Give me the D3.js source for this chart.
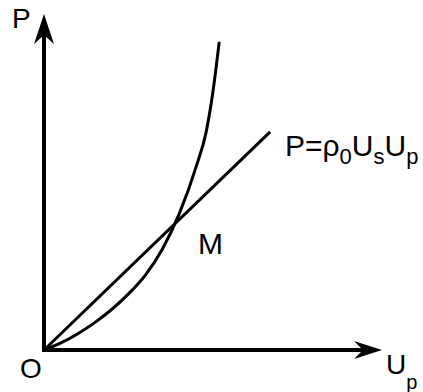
<!DOCTYPE html>
<html lang="en">
<head>
    <meta charset="UTF-8">
    <title>Hugoniot P-Up</title>
    <script src="https://d3js.org/d3.v7.min.js"></script>
    <style>
        body { margin: 0; background: #fff; }
        svg text { font-family: "Liberation Sans", Arial, sans-serif; fill: #000; }
    </style>
</head>
<body>
    <div id="chart"></div>
    <script>
        // Hugoniot curve (arbitrary units)
        const curveUp = [0, 0.5, 1, 1.5, 2, 2.5, 3, 3.5, 4, 4.5, 4.8, 5.0, 5.18];
        const curveP  = [0, 0.21, 0.485, 0.815, 1.205, 1.67, 2.23, 3.0, 4.05, 5.45, 6.5, 7.7, 9.14];
        // Rayleigh line P = rho0 Us Up
        const lineUp = [0, 6.69];
        const lineP  = [0, 6.49];
        const axisMax = [10, 10];

        const width = 423, height = 392;
        const origin = {x: 44, y: 350};

        const x = d3.scaleLinear().domain([0, axisMax[0]]).range([origin.x, 382]);
        const y = d3.scaleLinear().domain([0, axisMax[1]]).range([origin.y, 14]);

        const svg = d3.select("#chart").append("svg")
            .attr("width", width)
            .attr("height", height);

        svg.append("rect").attr("width", width).attr("height", height).attr("fill", "#fff");

        // axes
        svg.append("line")
            .attr("x1", x(0)).attr("y1", y(0))
            .attr("x2", x(0)).attr("y2", y(axisMax[1]) + 18)
            .attr("stroke", "#000").attr("stroke-width", 4);
        svg.append("line")
            .attr("x1", x(0) - 2).attr("y1", y(0))
            .attr("x2", x(axisMax[0]) - 18).attr("y2", y(0))
            .attr("stroke", "#000").attr("stroke-width", 4);

        // arrow heads (tip, wing, notch, wing)
        const tx = x(0), ty = y(axisMax[1]);
        svg.append("path")
            .attr("d", `M${tx},${ty} L${tx + 10},${ty + 30} L${tx},${ty + 21} L${tx - 10},${ty + 30} Z`)
            .attr("fill", "#000");
        const rx = x(axisMax[0]), ry = y(0);
        svg.append("path")
            .attr("d", `M${rx},${ry} L${rx - 28},${ry - 9} L${rx - 19},${ry} L${rx - 28},${ry + 9} Z`)
            .attr("fill", "#000");

        const line = d3.line()
            .x(d => x(d[0]))
            .y(d => y(d[1]));

        svg.append("path")
            .datum(lineUp.map((u, i) => [u, lineP[i]]))
            .attr("d", line)
            .attr("fill", "none").attr("stroke", "#000").attr("stroke-width", 3);

        svg.append("path")
            .datum(curveUp.map((u, i) => [u, curveP[i]]))
            .attr("d", line.curve(d3.curveMonotoneX))
            .attr("fill", "none").attr("stroke", "#000").attr("stroke-width", 3)
            .attr("stroke-linecap", "round");

        // labels
        svg.append("text").attr("x", 12).attr("y", 28).style("font-size", "28px").text("P");
        svg.append("text").attr("x", 20).attr("y", 378).style("font-size", "28px").text("O");
        svg.append("text").attr("x", 198).attr("y", 254).style("font-size", "30px").text("M");

        const up = svg.append("text").attr("x", 386).attr("y", 374).style("font-size", "28px");
        up.append("tspan").text("U");
        up.append("tspan").attr("dy", 15).style("font-size", "20px").text("p");

        const eq = svg.append("text").attr("x", 285).attr("y", 156).style("font-size", "30px");
        eq.append("tspan").text("P=ρ");
        eq.append("tspan").attr("dy", 8).style("font-size", "22px").text("0");
        eq.append("tspan").attr("dy", -8).text("U");
        eq.append("tspan").attr("dy", 8).style("font-size", "22px").text("s");
        eq.append("tspan").attr("dy", -8).text("U");
        eq.append("tspan").attr("dy", 8).style("font-size", "22px").text("p");
    </script>
</body>
</html>
